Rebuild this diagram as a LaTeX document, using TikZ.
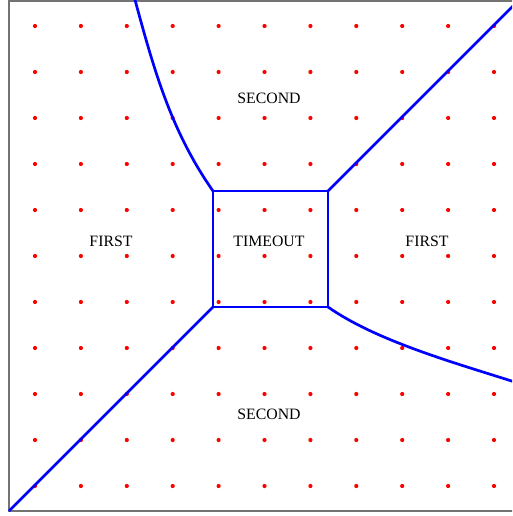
\documentclass[tikz,border=0pt]{standalone}
\usepackage{fontspec}
\setmainfont{Liberation Serif}
\begin{document}
\begin{tikzpicture}[x=1pt,y=-1pt,
  frame/.style={draw=black!55,line width=2pt},
  bline/.style={draw=blue,line width=2.7pt,line join=miter},
  dotmark/.style={fill=red,circle,inner sep=0pt,minimum size=4.2pt},
  lab/.style={font=\fontsize{15.8}{18}\selectfont,inner sep=0pt}]
\useasboundingbox (0,0) rectangle (512,516);
\clip (0,0) rectangle (512,516);
\fill[white] (0,0) rectangle (512,516);
% dots
\foreach \i in {0,...,10}{
  \foreach \j in {0,...,10}{
    \node[dotmark] (d\i-\j) at ({35+45.9*\i},{26+46*\j}) {};
  }
}
% frame
\draw[frame] (9,1) rectangle (520,511);
% box corners
\coordinate (tl) at (213,191);
\coordinate (tr) at (328,191);
\coordinate (bl) at (213,307);
\coordinate (br) at (328,307);
\coordinate (ctr) at (521,-2);
\coordinate (cbl) at (9,511);
\coordinate (ctop) at (134.5,-2);
\coordinate (cright) at (521,384);
\draw[bline] (tl) -- (tr) -- (br) -- (bl) -- cycle;
\draw[bline] (tr) -- (ctr);
\draw[bline] (bl) -- (cbl);
\draw[bline] (tl) .. controls (171,131) and (154,70) .. (ctop);
\draw[bline] (br) .. controls (378,342) and (459,364) .. (cright);
% labels
\node[lab] (s1) at (269,98) {SECOND};
\node[lab] (f1) at (111,241) {FIRST};
\node[lab] (t) at (269,241) {TIMEOUT};
\node[lab] (f2) at (427,241) {FIRST};
\node[lab] (s2) at (269,414) {SECOND};
\end{tikzpicture}
\end{document}
